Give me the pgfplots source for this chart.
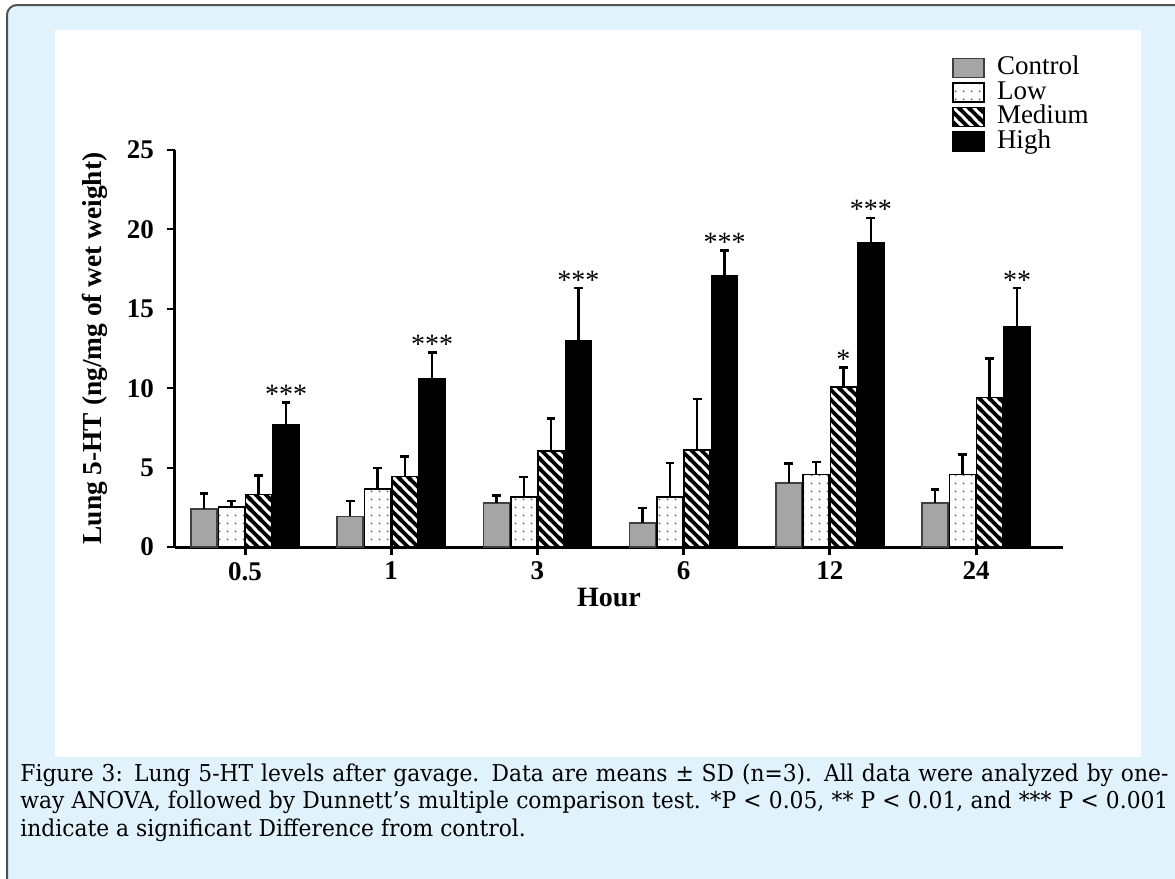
\documentclass[border=0pt]{standalone}
\usepackage{fontspec}
\setmainfont{Liberation Serif}
\newfontfamily\capfont[FakeStretch=0.94]{DejaVu Serif}
\usepackage{pgfplots}
\pgfplotsset{compat=1.18}
\usetikzlibrary{patterns}

\definecolor{panelbg}{RGB}{224,242,252}
\definecolor{panelline}{RGB}{80,80,80}
\definecolor{ctrlgray}{RGB}{165,165,165}

% thick "\\" stripes for Medium
\pgfdeclarepatternformonly{thickNW}{\pgfpoint{-1pt}{-1pt}}{\pgfpoint{6pt}{6pt}}{\pgfpoint{5pt}{5pt}}{%
  \pgfsetlinewidth{1.8pt}%
  \pgfpathmoveto{\pgfpoint{-1pt}{6pt}}\pgfpathlineto{\pgfpoint{6pt}{-1pt}}%
  \pgfpathmoveto{\pgfpoint{-1pt}{1pt}}\pgfpathlineto{\pgfpoint{1pt}{-1pt}}%
  \pgfpathmoveto{\pgfpoint{4pt}{6pt}}\pgfpathlineto{\pgfpoint{6pt}{4pt}}%
  \pgfusepath{stroke}}
% small dots for Low
\pgfdeclarepatternformonly{sdots}{\pgfpoint{0pt}{0pt}}{\pgfpoint{4pt}{4pt}}{\pgfpoint{4pt}{4pt}}{%
  \pgfpathcircle{\pgfpoint{2pt}{2pt}}{0.6pt}\pgfusepath{fill}}

\pgfplotsset{sdbars/.style={error bars/.cd, y dir=plus, y explicit,
    error bar style={line width=1.2pt, black},
    error mark options={rotate=90, mark size=2.2pt, line width=1.2pt, black}}}

\begin{document}
\begin{tikzpicture}
\path[use as bounding box] (0,0) rectangle (587.5pt,-439.5pt);
\begin{scope}
\clip (0,0) rectangle (587.5pt,-439.5pt);
\draw[fill=panelbg, draw=panelline, line width=1pt, rounded corners=5pt]
  (3.5pt,-2.5pt) rectangle (600pt,-450pt);
\fill[white] (27.5pt,-15pt) rectangle (570.5pt,-378.5pt);
\end{scope}

\begin{axis}[
  at={(87.5pt,-273.5pt)}, anchor=south west,
  scale only axis,
  width=444pt, height=198.5pt,
  ybar=0.67pt, bar width=13pt,
  xmin=-0.479, xmax=5.595,
  ymin=0, ymax=25,
  axis lines=left,
  axis line style={-, line width=1.5pt},
  xtick={0,1,2,3,4,5},
  xticklabels={0.5,1,3,6,12,24},
  ytick={0,5,10,15,20,25},
  tick style={black, line width=1pt},
  tick align=outside,
  major tick length=4pt,
  x tick style={line width=1.5pt},
  /pgf/number format/assume math mode=true,
  ticklabel style={font=\bfseries\fontsize{13.5}{15}\selectfont},
  xticklabel style={yshift=0pt},
  yticklabel style={xshift=-3pt},
  xlabel={Hour},
  xlabel style={font=\bfseries\fontsize{14}{16}\selectfont, yshift=3pt, xshift=-5pt},
  ylabel={Lung 5-HT (ng/mg of wet weight)},
  ylabel style={font=\bfseries\fontsize{13.7}{16}\selectfont, yshift=3pt},
  clip=false,
  legend cell align=left,
  legend image code/.code={\draw[#1, line width=0.8pt] (0pt,-4.75pt) rectangle (15.5pt,4.75pt);},
  legend style={at={(0.875,1.239)}, anchor=north west, draw=none, fill=none,
    font=\fontsize{13.5}{12}\selectfont, row sep=0pt, column sep=6pt, inner sep=0pt,
    nodes={inner sep=0pt, text height=9.5pt, text depth=2.8pt}},
]
\addplot[draw=black!75, fill=ctrlgray, line width=0.8pt, sdbars] coordinates {
  (0,2.41) +- (0,0.95)
  (1,1.93) +- (0,0.97)
  (2,2.79) +- (0,0.46)
  (3,1.53) +- (0,0.94)
  (4,4.03) +- (0,1.22)
  (5,2.79) +- (0,0.84)
};
\addplot[draw=black, fill=white, line width=0.8pt, postaction={pattern=sdots, pattern color=black!55}, sdbars] coordinates {
  (0,2.51) +- (0,0.39)
  (1,3.67) +- (0,1.31)
  (2,3.14) +- (0,1.27)
  (3,3.14) +- (0,2.15)
  (4,4.56) +- (0,0.79)
  (5,4.56) +- (0,1.26)
};
\addplot[draw=black, fill=white, line width=0.8pt, postaction={pattern=thickNW, pattern color=black}, sdbars] coordinates {
  (0,3.30) +- (0,1.21)
  (1,4.45) +- (0,1.26)
  (2,6.05) +- (0,2.05)
  (3,6.09) +- (0,3.22)
  (4,10.09) +- (0,1.22)
  (5,9.42) +- (0,2.46)
};
\addplot[draw=black, fill=black, line width=0.8pt, sdbars] coordinates {
  (0,7.67) +- (0,1.43)
  (1,10.62) +- (0,1.62)
  (2,12.99) +- (0,3.31)
  (3,17.10) +- (0,1.57)
  (4,19.18) +- (0,1.54)
  (5,13.88) +- (0,2.42)
};
\legend{Control,Low,Medium,High}

% significance marks
\begin{scope}[every node/.style={anchor=base, font=\fontsize{14}{14}\selectfont, inner sep=0pt, yshift=-0.5pt}]
\node[xshift=20.5pt] at (axis cs:0,9.10) {***};
\node[xshift=20.5pt] at (axis cs:1,12.24) {***};
\node[xshift=20.5pt] at (axis cs:2,16.30) {***};
\node[xshift=20.5pt] at (axis cs:3,18.67) {***};
\node[xshift=20.5pt] at (axis cs:4,20.72) {***};
\node[xshift=6.83pt] at (axis cs:4,11.31) {*};
\node[xshift=20.5pt] at (axis cs:5,16.30) {**};
\end{scope}
\end{axis}

\begin{scope}[every node/.style={anchor=base west, inner sep=0pt, font=\capfont\fontsize{11.6}{14}\selectfont}]
\node at (10pt,-390.5pt) {\hbox to 574pt{Figure 3: Lung 5-HT levels after gavage. Data are means ± SD (n=3). All data were analyzed by one-}};
\node at (10pt,-404.25pt) {\hbox to 574pt{way ANOVA, followed by Dunnett’s multiple comparison test. *P < 0.05, ** P < 0.01, and *** P < 0.001}};
\node at (10pt,-418pt) {indicate a significant Difference from control.};
\end{scope}
\end{tikzpicture}
\end{document}
